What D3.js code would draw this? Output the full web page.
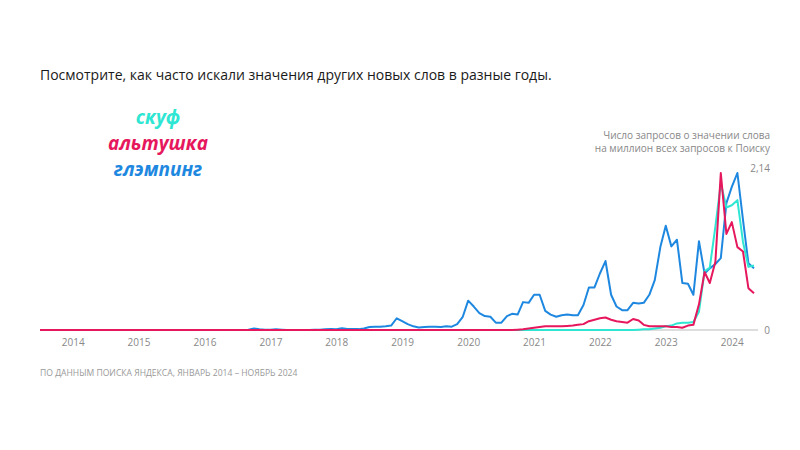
<!DOCTYPE html>
<html>
<head>
<meta charset="utf-8">
<script src="https://cdn.jsdelivr.net/npm/d3@7"></script>
<style>
body { margin: 0; background: #fff; font-family: "Open Sans", "Noto Sans", sans-serif; }
</style>
</head>
<body>
<svg id="chart" width="800" height="450"></svg>
<script>
// месяцы: январь 2014 – ноябрь 2024
var years = [2014, 2015, 2016, 2017, 2018, 2019, 2020, 2021, 2022, 2023, 2024];
var zeros = [0,0,0,0,0,0,0,0,0,0,0,0];

var glamping = [].concat(
	zeros, zeros, zeros,
	[0,0,0.005,0.02,0.01,0.005,0.005,0.01,0.005,0,0,0],
	[0,0,0.005,0.005,0.01,0.015,0.01,0.023,0.015,0.015,0.012,0.02],
	[0.04,0.045,0.045,0.05,0.06,0.16,0.12,0.08,0.05,0.035,0.04,0.045],
	[0.045,0.04,0.05,0.045,0.08,0.18,0.40,0.32,0.23,0.19,0.18,0.10],
	[0.10,0.19,0.22,0.21,0.38,0.37,0.48,0.48,0.26,0.21,0.18,0.20],
	[0.21,0.20,0.20,0.34,0.58,0.58,0.77,0.94,0.48,0.32,0.27,0.27],
	[0.37,0.36,0.37,0.48,0.68,1.13,1.42,1.14,1.23,0.64,0.63,0.48],
	[1.21,0.77,0.84,0.90,0.98,1.73,1.95,2.14,1.50,0.91,0.84]
);
var altushka = [].concat(
	zeros, zeros, zeros, zeros, zeros, zeros, zeros,
	[0,0,0,0.005,0.01,0.02,0.03,0.04,0.05,0.05,0.05,0.05],
	[0.055,0.06,0.07,0.08,0.12,0.14,0.16,0.17,0.14,0.12,0.11,0.10],
	[0.15,0.13,0.07,0.05,0.05,0.05,0.05,0.04,0.04,0.03,0.06,0.07],
	[0.35,0.79,0.64,0.93,2.14,1.31,1.47,1.13,1.07,0.57,0.50]
);
var skuf = [].concat(
	zeros, zeros, zeros, zeros, zeros, zeros, zeros, zeros, zeros,
	[0,0.005,0.01,0.01,0.02,0.03,0.05,0.06,0.09,0.10,0.10,0.11],
	[0.25,0.80,0.85,1.41,2.00,1.67,1.70,1.77,1.20,0.86,0.88]
);

var series = [
	{ name: "глэмпинг", values: glamping, color: "#1e88e0" },
	{ name: "скуф", values: skuf, color: "#2ee6d2" },
	{ name: "альтушка", values: altushka, color: "#e6175c" }
];
var legendOrder = [series[1], series[2], series[0]];

var svg = d3.select("#chart");

var x = d3.scaleTime()
	.domain([new Date(2014, 0, 1), new Date(2024, 10, 1)])
	.range([40, 754]);
var y = d3.scaleLinear().domain([0, 2.14]).range([330, 173]);

function dateOf(i) { return new Date(2014, i, 1); }

// заголовок
svg.append("text").attr("x", 40).attr("y", 80)
	.attr("font-size", 14).attr("fill", "#1a1a1a")
	.text("Посмотрите, как часто искали значения других новых слов в разные годы.");

// легенда
svg.selectAll(".leg").data(legendOrder).enter().append("text")
	.attr("x", 158).attr("y", function(d, i) { return 124 + i * 26; })
	.attr("text-anchor", "middle")
	.attr("font-size", 19).attr("font-weight", "bold").attr("font-style", "italic")
	.attr("fill", function(d) { return d.color; })
	.text(function(d) { return d.name; });

// подпись оси
svg.append("text").attr("x", 770).attr("y", 139).attr("text-anchor", "end")
	.attr("font-size", 10).attr("fill", "#888").text("Число запросов о значении слова");
svg.append("text").attr("x", 770).attr("y", 152).attr("text-anchor", "end")
	.attr("font-size", 10).attr("fill", "#888").text("на миллион всех запросов к Поиску");
svg.append("text").attr("x", 770).attr("y", 172).attr("text-anchor", "end")
	.attr("font-size", 10).attr("fill", "#888").text("2,14");
svg.append("text").attr("x", 770).attr("y", 334).attr("text-anchor", "end")
	.attr("font-size", 10).attr("fill", "#888").text("0");

svg.append("line").attr("x1", 40).attr("x2", 758).attr("y1", y(0)).attr("y2", y(0))
	.attr("stroke", "#bbb").attr("stroke-width", 1);

// ось X: подписи в середине года
var xAxis = d3.axisBottom(x)
	.tickValues(years.map(function(yr) { return new Date(yr, 6, 1); }))
	.tickSize(0)
	.tickFormat(d3.timeFormat("%Y"));
var gx = svg.append("g").attr("transform", "translate(0,336)").call(xAxis);
gx.select(".domain").remove();
gx.selectAll("text").attr("font-size", 10).attr("fill", "#888")
	.attr("font-family", "\"Open Sans\", sans-serif");

var line = d3.line()
	.x(function(d, i) { return x(dateOf(i)); })
	.y(function(d) { return y(d); });

svg.selectAll(".series").data(series).enter().append("path")
	.attr("fill", "none")
	.attr("stroke", function(d) { return d.color; })
	.attr("stroke-width", 2)
	.attr("stroke-linejoin", "round")
	.attr("d", function(d) { return line(d.values); });

svg.append("text").attr("x", 40).attr("y", 376)
	.attr("font-size", 8.6).attr("fill", "#999")
	.text("ПО ДАННЫМ ПОИСКА ЯНДЕКСА, ЯНВАРЬ 2014 – НОЯБРЬ 2024");
</script>
</body>
</html>
